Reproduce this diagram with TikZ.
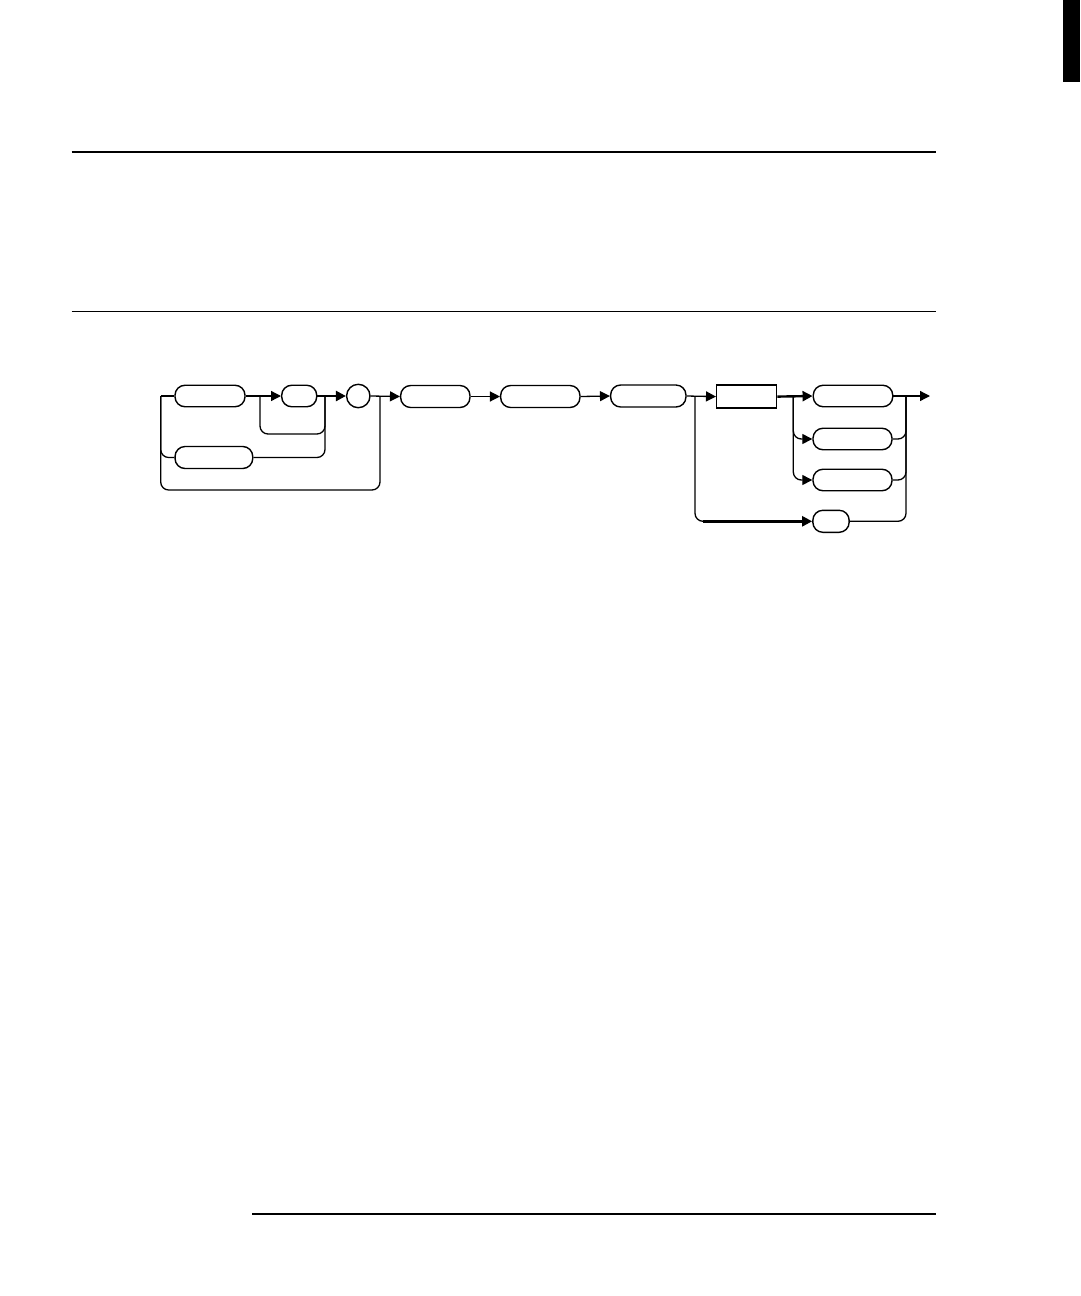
\documentclass[tikz,border=0pt]{standalone}
\usetikzlibrary{arrows.meta}
\begin{document}
\begin{tikzpicture}[x=1pt,y=-1pt,
 rbox/.style={draw, line width=1.4pt, rounded corners=10pt, minimum height=21.5pt, inner sep=0pt},
 sbox/.style={draw, line width=1.4pt, minimum height=23pt, minimum width=60pt, inner sep=0pt},
 cbox/.style={draw, circle, line width=1.4pt, minimum size=23.4pt, inner sep=0pt},
 ln/.style={line width=1.3pt},
 tk/.style={line width=2.4pt},
 arr/.style={-{Triangle[length=10pt,width=10pt]}},
 curvy/.style={ln, rounded corners=8pt},
 rulestyle/.style={line width=1.4pt}]
\useasboundingbox (0,0) rectangle (1080,1296);
% page furniture
\fill (1063,0) rectangle (1080,82);
\draw[rulestyle] (71.7,152) -- (935.7,152);
\draw[rulestyle] (71.7,311.7) -- (935.7,311.7);
\draw[rulestyle] (252,1214) -- (936,1214);
% nodes
\node[rbox, minimum width=70pt] (b1) at (210,396) {};
\node[rbox, minimum width=35pt] (b2) at (299.2,396) {};
\node[cbox] (c1) at (358.3,396) {};
\node[rbox, minimum width=77.7pt, minimum height=22pt] (b3) at (213.9,457.5) {};
\node[rbox, minimum width=69.3pt, minimum height=22pt] (b4) at (435.3,396.5) {};
\node[rbox, minimum width=79.3pt, minimum height=22pt] (b5) at (540.3,396.5) {};
\node[rbox, minimum width=75.3pt, minimum height=22pt] (b6) at (648.3,396) {};
\node[sbox] (r1) at (746.7,396.6) {};
\node[rbox, minimum width=79.5pt] (b7) at (853,396) {};
\node[rbox, minimum width=79pt] (b8) at (852.5,439) {};
\node[rbox, minimum width=79pt] (b9) at (852.5,480) {};
\node[rbox, minimum width=36.3pt, minimum height=22pt] (b10) at (831,521.3) {};
% junction coordinates
\coordinate (s) at (160.7,396);
\coordinate (j1) at (260,396);
\coordinate (j2) at (325,396);
\coordinate (j3) at (380,396);
\coordinate (j4) at (695,396);
\coordinate (j5) at (793.3,396);
\coordinate (j6) at (906,396);
\coordinate (e) at (930,396);
\coordinate (k1) at (703,521.3);
% connectors
\draw[ln] (s) -- (b1.west);
\draw[curvy] (s) |- (b3.west);
\draw[curvy] (s) -- (160.7,490) -- (380,490) -- (j3);
\draw[ln, arr] (b1.east) -- (b2.west);
\draw[curvy] (j1) -- (260,434) -- (325,434) -- (j2);
\draw[curvy] (b3.east) -| (j2);
\draw[tk, arr] (b2.east) -- (c1.west);
\draw[ln, arr] (c1.east) -- (b4.west);
\draw[ln, arr] (b4.east) -- (b5.west);
\draw[ln, arr] (b5.east) -- (b6.west);
\draw[ln, arr] (b6.east) -- (r1.west);
\draw[curvy] (j4) |- (k1);
\draw[tk, arr] (k1) -- (b10.west);
\draw[tk, arr] (r1.east) -- (b7.west);
\draw[curvy, arr] (j5) |- (b8.west);
\draw[curvy, arr] (j5) |- (b9.west);
\draw[ln, arr] (b7.east) -- (e);
\draw[curvy] (b8.east) -| (j6);
\draw[curvy] (b9.east) -| (j6);
\draw[curvy] (b10.east) -| (j6);
\end{tikzpicture}
\end{document}
